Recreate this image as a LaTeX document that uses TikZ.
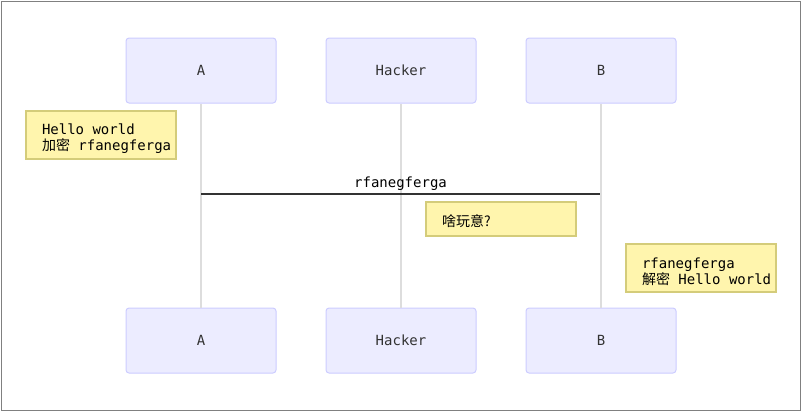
\documentclass[tikz,border=0pt]{standalone}
\usepackage{fontspec}
\setmonofont{DejaVu Sans Mono}
\newfontfamily\cjk{Noto Sans CJK SC}
\usepackage{tikz}
\definecolor{actorfill}{HTML}{ECECFF}
\definecolor{actorline}{HTML}{CCCCFF}
\definecolor{notefill}{HTML}{FFF5AD}
\definecolor{noteline}{HTML}{D4CC7A}
\definecolor{lifeline}{HTML}{DDDDDD}
\definecolor{msgline}{HTML}{333333}
\begin{document}
\begin{tikzpicture}[x=0.75pt,y=-0.75pt,font=\ttfamily\fontsize{10.5}{12}\selectfont,
actor/.style={shape=rectangle,rounded corners=2.25pt,draw=actorline,fill=actorfill,line width=0.75pt,minimum width=112.5pt,minimum height=48.75pt,text=msgline},
note/.style={shape=rectangle,draw=noteline,fill=notefill,line width=1.1pt,minimum width=112.5pt,text width=88.5pt,inner xsep=12pt,align=left,execute at begin node={\spaceskip=0pt\xspaceskip=0pt\relax\rule{0pt}{#1}}},
note/.default=14pt,
life/.style={draw=lifeline,line width=1.5pt},
msg/.style={draw=msgline,line width=1.5pt}]
\useasboundingbox (0,0) rectangle (802,412);
\draw[gray,line width=0.75pt] (1,1) rectangle (800,410);
\node[actor] (A) at (201,70.5) {A};
\node[actor] (H) at (401,70.5) {Hacker};
\node[actor] (B) at (601,70.5) {B};
\node[actor] (A2) at (201,340.5) {A};
\node[actor] (H2) at (401,340.5) {Hacker};
\node[actor] (B2) at (601,340.5) {B};
\draw[life] (A) -- (A2);
\draw[life] (H) -- (H2);
\draw[life] (B) -- (B2);
\coordinate (As) at (201,193.5);
\coordinate (Bs) at (600,193.5);
\draw[msg] (As) to node[above=-2pt]{rfanegferga} (Bs);
\node[note,minimum height=36pt] (N1) at (101,135) {\mbox{Hello world}\\\mbox{{\cjk 加密} rfanegferga}};
\node[note=11.5pt,minimum height=25.5pt] (N2) at (501,219) {{\cjk 啥玩意?}};
\node[note,minimum height=36pt] (N3) at (701,268) {\mbox{rfanegferga}\\\mbox{{\cjk 解密} Hello world}};
\end{tikzpicture}
\end{document}
